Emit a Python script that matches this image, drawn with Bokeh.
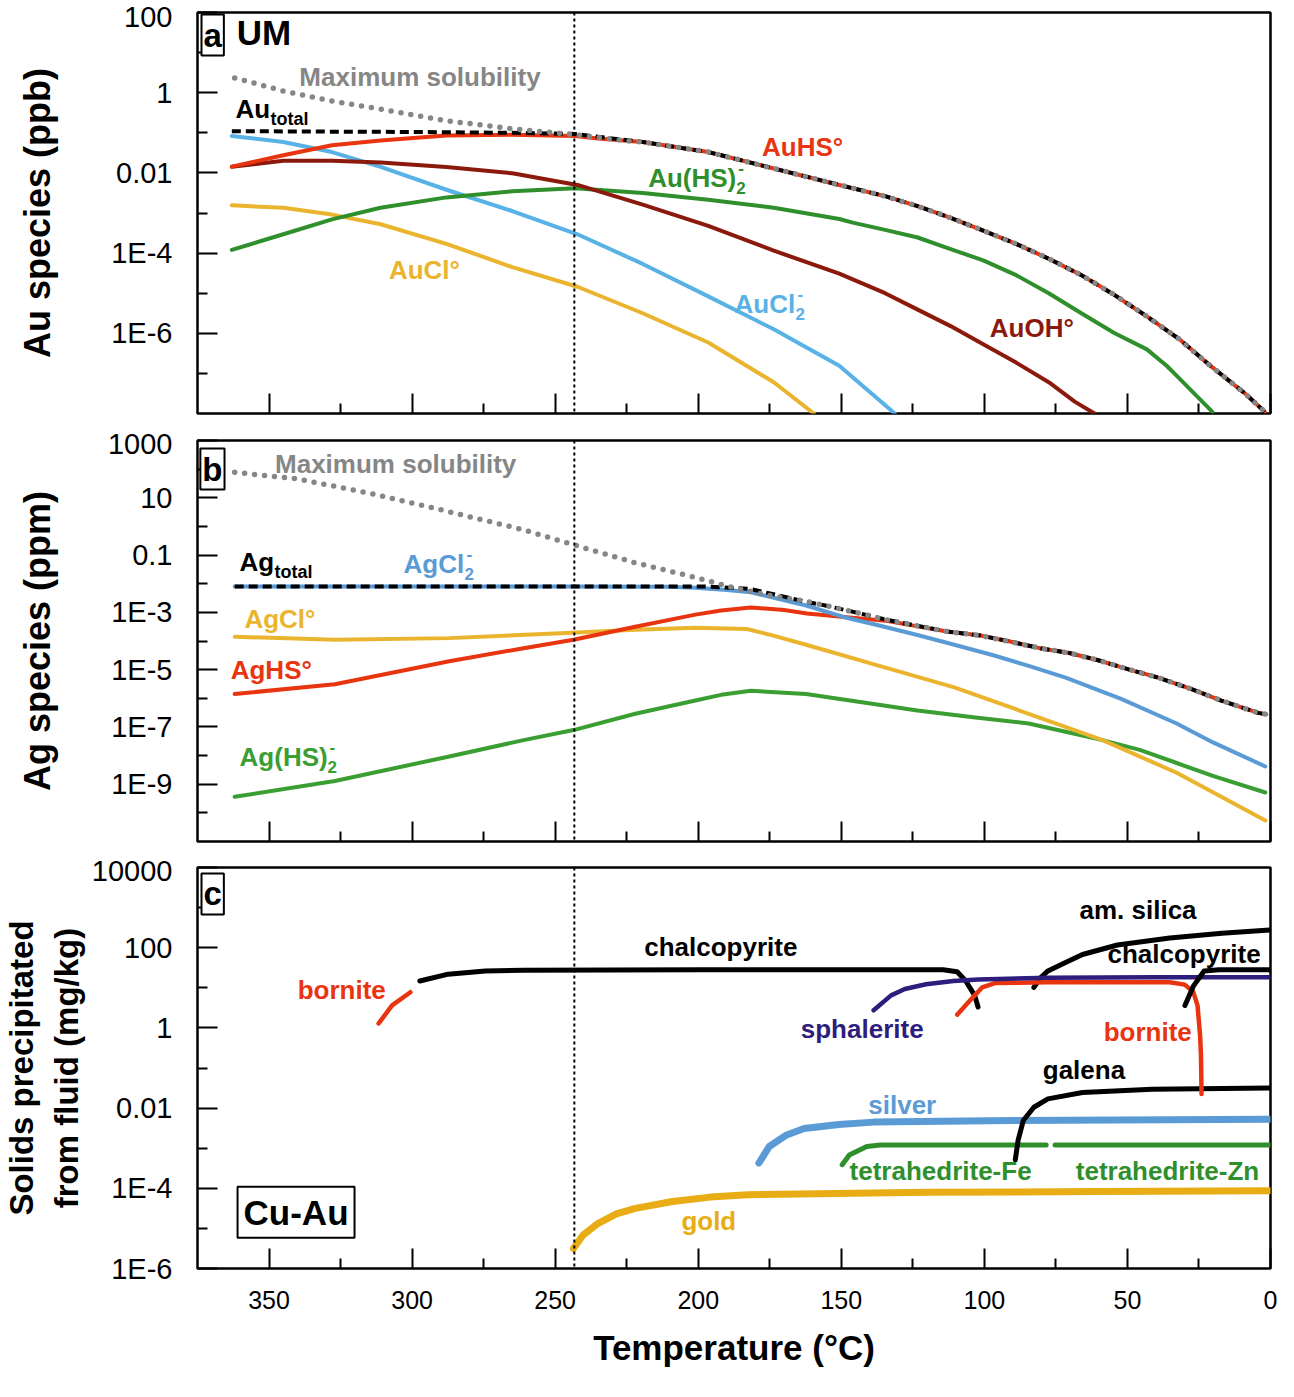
from bokeh.plotting import figure
from bokeh.layouts import column
from bokeh.models import Range1d, FixedTicker, CustomJSTickFormatter, Span, Label, CustomLabelingPolicy
from bokeh.core.properties import value
from bokeh.embed import file_html
from bokeh.resources import INLINE

FONT = "Liberation Sans"

# ---------------- x axis (temperature, reversed) ----------------
T_MAJOR = [350, 300, 250, 200, 150, 100, 50, 0]
T_MINOR = [325, 275, 225, 175, 125, 75, 25]
T_CHANGE = 243.3

# ---------------- panel a : Au species (ppb) ----------------
AUHS_T = [363, 345, 328, 311, 288, 265, 243, 235, 219.4, 196.5, 173.6, 150.7, 134.7, 123.3, 111.8, 100.4, 88.9,
          77.5, 66.1, 54.6, 43.2, 31.8, 20.3, 8.9, 2.0]
AUHS_V = [1.43e-2, 2.75e-2, 4.9e-2, 6.46e-2, 8.51e-2, 8.91e-2, 8.32e-2, 7.24e-2, 5.89e-2, 3.31e-2, 1.29e-2,
          5.01e-3, 2.63e-3, 1.48e-3, 7.59e-4, 3.63e-4, 1.70e-4, 7.24e-5, 2.82e-5, 9.12e-6, 2.63e-6, 7.08e-7,
          1.41e-7, 3.16e-8, 1.10e-8]
# maximum solubility and total Au run on the AuHS curve below ~220 °C
AU_MAXSOL_T = [362, 345, 328, 311, 288, 265, 243, 225] + AUHS_T[8:]
AU_MAXSOL_V = [2.34, 1.10, 0.617, 0.389, 0.200, 0.126, 8.91e-2, 6.31e-2] + AUHS_V[8:]
AU_TOTAL_T = [363, 330, 300, 265, 243, 235] + AUHS_T[8:]
AU_TOTAL_V = [0.110, 0.107, 0.105, 0.100, 9.33e-2, 7.94e-2] + AUHS_V[8:]
AUCL2_T = [363, 345, 328, 311, 288, 265, 242.2, 219.4, 196.5, 173.6, 150.7, 131.3]
AUCL2_V = [8.32e-2, 5.89e-2, 3.31e-2, 1.41e-2, 3.80e-3, 1.12e-3, 2.95e-4, 5.37e-5, 8.32e-6, 1.26e-6, 1.55e-7, 1.0e-8]
AUCL_T = [363, 345, 328, 311, 288, 265, 242.2, 219.4, 196.5, 173.6, 159.6]
AUCL_V = [1.55e-3, 1.35e-3, 9.12e-4, 5.25e-4, 1.70e-4, 4.47e-5, 1.45e-5, 3.16e-6, 5.89e-7, 6.03e-8, 1.0e-8]
AUHS2_T = [363, 345, 328, 311, 288, 265, 243, 219.4, 196.5, 173.6, 150.7, 146, 134.7, 123.3, 111.8, 100.4, 88.9,
           77.5, 66.1, 54.6, 43.2, 36.3, 31.8, 26.1, 20.3]
AUHS2_V = [1.20e-4, 2.95e-4, 6.92e-4, 1.35e-3, 2.45e-3, 3.47e-3, 4.17e-3, 3.16e-3, 2.14e-3, 1.35e-3, 7.08e-4,
           5.75e-4, 3.80e-4, 2.45e-4, 1.26e-4, 6.61e-5, 2.82e-5, 1.0e-5, 3.16e-6, 1.02e-6, 3.98e-7, 1.55e-7,
           7.41e-8, 2.88e-8, 1.10e-8]
AUOH_T = [363, 345, 328, 311, 288, 265, 242.2, 219.4, 196.5, 173.6, 150.7, 134.7, 123.3, 111.8, 100.4, 88.9, 77.5,
          68.3, 61.5]
AUOH_V = [1.43e-2, 2.0e-2, 2.0e-2, 1.82e-2, 1.41e-2, 9.77e-3, 5.01e-3, 1.62e-3, 4.79e-4, 1.15e-4, 3.09e-5,
          1.0e-5, 3.89e-6, 1.51e-6, 5.37e-7, 1.86e-7, 6.03e-8, 1.95e-8, 1.0e-8]

# ---------------- panel b : Ag species (ppm) ----------------
AG_MAXSOL_T = [362, 340, 314, 287, 261, 243.6, 222, 201, 188, 175, 162, 155.6, 145.4, 133.7, 123.4, 113, 101.4, 91,
               80.7, 70.3, 59.9, 49.6, 39.2, 27.6, 17.2, 4.3, 1.5]
AG_MAXSOL_V = [77.6, 45.7, 13.8, 3.24, 0.759, 0.229, 5.37e-2, 1.66e-2, 7.41e-3, 3.89e-3, 2.40e-3, 1.74e-3, 1.02e-3,
               5.37e-4, 3.39e-4, 2.14e-4, 1.55e-4, 9.55e-5, 5.62e-5, 3.80e-5, 2.09e-5, 1.02e-5, 5.25e-6, 2.09e-6,
               8.32e-7, 3.09e-7, 2.75e-7]
AG_TOTAL_T = [362, 320, 280, 240, 200, 196, 182, 170, 162, 155.6, 145.4, 133.7, 123.4, 113, 101.4, 91, 80.7, 70.3,
              59.9, 49.6, 39.2, 27.6, 17.2, 4.3, 1.5]
AG_TOTAL_V = [7.94e-3, 7.94e-3, 7.94e-3, 7.94e-3, 7.94e-3, 7.94e-3, 6.61e-3, 3.55e-3, 2.29e-3, 1.74e-3, 1.02e-3,
              5.37e-4, 3.39e-4, 2.14e-4, 1.55e-4, 9.55e-5, 5.62e-5, 3.80e-5, 2.09e-5, 1.02e-5, 5.25e-6, 2.09e-6,
              8.32e-7, 3.09e-7, 2.75e-7]
AGCL2_T = [362, 300, 250, 210, 201, 190, 181.6, 162.3, 149.3, 136.4, 123.4, 110.5, 97.5, 84.5, 71.6, 52.2, 32.8, 19.9, 1.8]
AGCL2_V = [7.94e-3, 7.94e-3, 7.94e-3, 7.76e-3, 7.24e-3, 6.03e-3, 5.01e-3, 1.74e-3, 6.92e-4, 3.39e-4, 1.62e-4,
           7.41e-5, 3.31e-5, 1.35e-5, 5.25e-6, 9.55e-7, 1.32e-7, 2.82e-8, 4.17e-9]
AGHS_T = [362, 327, 287, 261, 243.6, 222, 201, 192, 181.6, 170, 162, 149, 133.7, 123.4, 113, 101.4, 91, 80.7, 70.3,
          59.9, 49.6, 39.2, 27.6, 17.2, 4.3, 1.5]
AGHS_V = [1.41e-6, 3.09e-6, 1.95e-5, 5.62e-5, 1.10e-4, 3.16e-4, 8.32e-4, 1.17e-3, 1.48e-3, 1.20e-3, 9.12e-4,
          6.92e-4, 5.01e-4, 3.24e-4, 2.14e-4, 1.55e-4, 9.55e-5, 5.62e-5, 3.80e-5, 2.09e-5, 1.02e-5, 5.25e-6,
          2.09e-6, 8.32e-7, 3.09e-7, 2.75e-7]
AGCL_T = [362, 327, 287, 248, 222, 201, 183, 175, 162.3, 136.4, 110.5, 84.5, 58.7, 32.8, 1.8]
AGCL_V = [1.41e-4, 1.10e-4, 1.26e-4, 1.86e-4, 2.45e-4, 2.88e-4, 2.63e-4, 1.66e-4, 7.41e-5, 1.32e-5, 2.40e-6,
          2.88e-7, 3.47e-8, 2.51e-9, 5.37e-11]
AGHS2_T = [362, 327, 287, 261, 243.6, 222, 201, 192, 181.6, 162.3, 142.8, 123.4, 103.9, 84.5, 71.6, 58.7, 45.7,
           32.8, 19.9, 1.8]
AGHS2_V = [3.63e-10, 1.29e-9, 9.33e-9, 3.47e-8, 7.76e-8, 2.88e-7, 8.32e-7, 1.32e-6, 1.82e-6, 1.41e-6, 7.24e-7,
           3.72e-7, 2.19e-7, 1.32e-7, 6.76e-8, 3.47e-8, 1.58e-8, 5.50e-9, 1.91e-9, 5.13e-10]

# ---------------- panel c : solids precipitated (mg/kg) ----------------
BORN1_T = [311.7, 307, 300.6]
BORN1_V = [1.29, 3.63, 7.76]
CCP1_T = [297.3, 287.4, 274.4, 261, 200, 150, 114.4, 109.5, 106.5, 103.4, 102.2]
CCP1_V = [14.8, 21.9, 26.3, 27.5, 28.2, 28.2, 28.2, 25.1, 14.8, 6.46, 3.31]
SPH_T = [138.7, 132.6, 127.8, 120.4, 110.8, 102.2, 77.8, 40, 0.3]
SPH_V = [2.75, 6.46, 9.33, 12.3, 14.8, 16.2, 17.8, 18.2, 18.2]
BORN2_T = [109.5, 105.6, 100.8, 96, 77.8, 50, 35.2, 30, 27, 25.5, 24.6, 24.3, 24.1]
BORN2_V = [2.14, 4.37, 10.2, 13.2, 13.8, 13.8, 13.8, 12.0, 7.94, 3.63, 0.631, 0.214, 2.24e-2]
SIL_T = [82.7, 80.4, 77.8, 72, 65.7, 53.5, 35.2, 17, 0.3]
SIL_V = [10.2, 17.8, 26.3, 41.7, 67.6, 117, 174, 229, 275]
CCP2_T = [29.9, 26.9, 23.2, 18, 0.3]
CCP2_V = [3.63, 11.2, 26.3, 28.2, 28.2]
GAL_T = [89.2, 88.2, 86.4, 82.7, 77.8, 65.7, 41.4, 0.3]
GAL_V = [5.13e-4, 1.58e-3, 4.90e-3, 1.05e-2, 1.70e-2, 2.45e-2, 2.95e-2, 3.16e-2]
AGM_T = [178.8, 175.2, 169.1, 163, 150.9, 138.7, 90, 0.3]
AGM_V = [4.27e-4, 1.10e-3, 2.14e-3, 3.09e-3, 3.89e-3, 4.47e-3, 4.90e-3, 5.25e-3]
TTFE_T = [149.7, 147.2, 141.1, 136.4, 78.4]
TTFE_V = [3.89e-4, 6.76e-4, 1.10e-3, 1.20e-3, 1.20e-3]
TTZN_T = [75.3, 0.3]
TTZN_V = [1.20e-3, 1.20e-3]
AUM_T = [243.6, 240.3, 235.1, 228.6, 222, 209, 195.8, 182.7, 120, 60, 0.3]
AUM_V = [3.16e-6, 6.76e-6, 1.32e-5, 2.29e-5, 3.16e-5, 4.68e-5, 6.03e-5, 6.92e-5, 7.94e-5, 8.32e-5, 8.71e-5]

# ---------------- colours ----------------
RED = "#e8340f"
GREEN = "#2f8f2c"
GREEN_B = "#3a9e32"
LBLUE = "#58b2e6"
BLUE_B = "#5b9bd5"
YELLOW = "#ebb42e"
GOLD = "#e8ad14"
DARKRED = "#8b1a0c"
GRAY = "#868686"
INDIGO = "#2d1d7c"

FMT = CustomJSTickFormatter(code="""
const e = Math.round(Math.log10(tick));
if (e >= 0) { return String(Math.round(Math.pow(10, e))); }
if (e >= -2) { return Math.pow(10, e).toFixed(-e); }
return "1E" + e;
""")

HIDE_ALL = CustomLabelingPolicy(code="""
const all = Array.from(indices);
for (const i of all) { indices.unset(i); }
return indices;
""")

XR = Range1d(375, 0)
FRAME_H = 401


def make_fig(yr, ticks, minor, ylabel, top, bottom, lab_standoff, lab_size=36, show_x=False):
    p = figure(width=1278, height=top + FRAME_H + bottom, x_range=XR, y_range=Range1d(*yr),
               y_axis_type="log", output_backend="svg", toolbar_location=None,
               min_border_left=185, min_border_right=8, min_border_top=top, min_border_bottom=bottom)
    p.grid.visible = False
    p.outline_line_color = "black"
    p.outline_line_width = 2.5
    p.background_fill_color = "white"
    p.border_fill_color = "white"
    p.xaxis.ticker = FixedTicker(ticks=T_MAJOR, minor_ticks=T_MINOR)
    p.yaxis.ticker = FixedTicker(ticks=ticks, minor_ticks=minor)
    p.yaxis.formatter = FMT
    for ax in p.axis:
        ax.axis_line_color = None
        ax.major_tick_in = 20
        ax.major_tick_out = 0
        ax.minor_tick_in = 10
        ax.minor_tick_out = 0
        ax.major_tick_line_width = 2
        ax.minor_tick_line_width = 2
        ax.major_tick_line_color = "black"
        ax.minor_tick_line_color = "black"
        ax.major_label_text_font = FONT
        ax.major_label_text_color = "black"
        ax.axis_label_text_font = FONT
        ax.axis_label_text_font_style = "bold"
        ax.axis_label_text_color = "black"
    p.yaxis.major_label_text_font_size = "29px"
    p.yaxis.major_label_standoff = 25
    p.yaxis.axis_label = ylabel
    p.yaxis.axis_label_text_font_size = f"{lab_size}px"
    p.yaxis.axis_label_standoff = lab_standoff
    if show_x:
        p.xaxis.major_label_text_font_size = "25px"
        p.xaxis.major_label_standoff = 22
        p.xaxis.axis_label = "Temperature (°C)"
        p.xaxis.axis_label_text_font_size = "35px"
        p.xaxis.axis_label_standoff = 16
    else:
        p.xaxis.major_label_text_font_size = "1px"
        p.xaxis.major_label_standoff = 0
        p.xaxis.major_label_policy = HIDE_ALL
    p.add_layout(Span(location=T_CHANGE, dimension="height", line_color="black",
                      line_width=2, line_dash="3 3"))
    return p


def curve(p, x, y, color, width=4.0, dash="solid", cap="round"):
    p.line(x, y, line_color=color, line_width=width, line_dash=dash, line_cap=cap, line_join="round")


def dotted(p, x, y):
    p.line(x, y, line_color=GRAY, line_width=5.5, line_dash="0 10", line_cap="round")


def dashed(p, x, y):
    p.line(x, y, line_color="black", line_width=4, line_dash="9 5", line_cap="butt")


def lab(p, x, y, txt, color, size=26, align="left", xo=0, yo=0, style="bold"):
    p.text(x=[x], y=[y], text=[txt], text_color=color, text_font=value(FONT),
           text_font_size=value(f"{size}px"), text_font_style=style,
           text_align=align, text_baseline="middle", x_offset=xo, y_offset=yo)


def boxlab(p, x, y, txt, size=33, pad=2):
    p.add_layout(Label(x=x, y=y, text=txt, text_font=FONT, text_font_size=f"{size}px",
                       text_font_style="bold", text_color="black", text_align="left",
                       text_baseline="top", border_line_color="black", border_line_width=2,
                       background_fill_color="white", padding=pad))


# ---------------- panel a ----------------
pa = make_fig((1e-8, 100), [1e-6, 1e-4, 1e-2, 1, 100], [1e-7, 1e-5, 1e-3, 0.1, 10],
              "Au species (ppb)", 12, 14, 50)
curve(pa, AUCL_T, AUCL_V, YELLOW)
curve(pa, AUCL2_T, AUCL2_V, LBLUE)
curve(pa, AUHS2_T, AUHS2_V, GREEN)
curve(pa, AUOH_T, AUOH_V, DARKRED)
curve(pa, AUHS_T, AUHS_V, RED)
dashed(pa, AU_TOTAL_T, AU_TOTAL_V)
dotted(pa, AU_MAXSOL_T, AU_MAXSOL_V)
lab(pa, 339.4, 2.4, "Maximum solubility", GRAY)
lab(pa, 361.7, 0.39, "Au", "black")
lab(pa, 361.7, 0.39, "total", "black", size=18, xo=35, yo=10)
lab(pa, 177.7, 0.045, "AuHS°", RED)
lab(pa, 217.5, 7.4e-3, "Au(HS)", GREEN)
lab(pa, 217.5, 7.4e-3, "2", GREEN, size=17, xo=88, yo=10)
lab(pa, 217.5, 7.4e-3, "-", GREEN, size=17, xo=90, yo=-10)
lab(pa, 308.1, 3.8e-5, "AuCl°", YELLOW)
lab(pa, 187.3, 5.5e-6, "AuCl", LBLUE)
lab(pa, 187.3, 5.5e-6, "2", LBLUE, size=17, xo=61, yo=10)
lab(pa, 187.3, 5.5e-6, "-", LBLUE, size=17, xo=63, yo=-10)
lab(pa, 98.1, 1.35e-6, "AuOH°", DARKRED)
boxlab(pa, 373.6, 89, "a")
lab(pa, 361.3, 32, "UM", "black", size=35)

# ---------------- panel b ----------------
pb = make_fig((1e-11, 1000), [1e-9, 1e-7, 1e-5, 1e-3, 0.1, 10, 1000],
              [1e-10, 1e-8, 1e-6, 1e-4, 1e-2, 1, 100], "Ag species (ppm)", 13, 13, 47)
curve(pb, AGHS2_T, AGHS2_V, GREEN_B)
curve(pb, AGCL_T, AGCL_V, YELLOW)
curve(pb, AGHS_T, AGHS_V, RED)
curve(pb, AGCL2_T, AGCL2_V, BLUE_B)
dashed(pb, AG_TOTAL_T, AG_TOTAL_V)
dotted(pb, AG_MAXSOL_T, AG_MAXSOL_V)
lab(pb, 347.9, 148, "Maximum solubility", GRAY)
lab(pb, 360.3, 0.059, "Ag", "black")
lab(pb, 360.3, 0.059, "total", "black", size=18, xo=35, yo=10)
lab(pb, 303, 0.047, "AgCl", BLUE_B)
lab(pb, 303, 0.047, "2", BLUE_B, size=17, xo=61, yo=10)
lab(pb, 303, 0.047, "-", BLUE_B, size=17, xo=63, yo=-10)
lab(pb, 358.6, 5.9e-4, "AgCl°", YELLOW)
lab(pb, 363.4, 9.6e-6, "AgHS°", RED)
lab(pb, 360.3, 9.1e-9, "Ag(HS)", GREEN_B)
lab(pb, 360.3, 9.1e-9, "2", GREEN_B, size=17, xo=88, yo=10)
lab(pb, 360.3, 9.1e-9, "-", GREEN_B, size=17, xo=90, yo=-10)
boxlab(pb, 374, 525, "b")

# ---------------- panel c ----------------
pc = make_fig((1e-6, 1e4), [1e-6, 1e-4, 1e-2, 1, 100, 1e4], [1e-5, 1e-3, 0.1, 10, 1000],
              "Solids precipitated\nfrom fluid (mg/kg)", 13, 110, 4, lab_size=33, show_x=True)
curve(pc, AUM_T, AUM_V, GOLD, width=7)
curve(pc, AGM_T, AGM_V, BLUE_B, width=7)
curve(pc, TTFE_T, TTFE_V, GREEN, width=5)
curve(pc, TTZN_T, TTZN_V, GREEN, width=5)
curve(pc, GAL_T, GAL_V, "black", width=5)
curve(pc, BORN1_T, BORN1_V, RED, width=4.5)
curve(pc, CCP1_T, CCP1_V, "black", width=5)
curve(pc, SIL_T, SIL_V, "black", width=5)
curve(pc, BORN2_T, BORN2_V, RED, width=4.5)
curve(pc, SPH_T, SPH_V, INDIGO, width=4.5)
curve(pc, CCP2_T, CCP2_V, "black", width=5)
lab(pc, 192.1, 102, "chalcopyrite", "black", align="center")
lab(pc, 324.6, 8.97, "bornite", RED, align="center")
lab(pc, 142.7, 0.93, "sphalerite", INDIGO, align="center")
lab(pc, 46.3, 870, "am. silica", "black", align="center")
lab(pc, 30.2, 69, "chalcopyrite", "black", align="center")
lab(pc, 42.9, 0.79, "bornite", RED, align="center")
lab(pc, 65.2, 0.087, "galena", "black", align="center")
lab(pc, 128.7, 0.012, "silver", BLUE_B, align="center")
lab(pc, 115.3, 2.7e-4, "tetrahedrite-Fe", GREEN, align="center")
lab(pc, 36, 2.7e-4, "tetrahedrite-Zn", GREEN, align="center")
lab(pc, 196.3, 1.5e-5, "gold", GOLD, align="center")
boxlab(pc, 373.6, 7100, "c")
boxlab(pc, 361, 1.1e-4, "Cu-Au", size=35, pad=6)

layout = column(pa, pb, pc)
open("out.html", "w").write(file_html(layout, INLINE))
